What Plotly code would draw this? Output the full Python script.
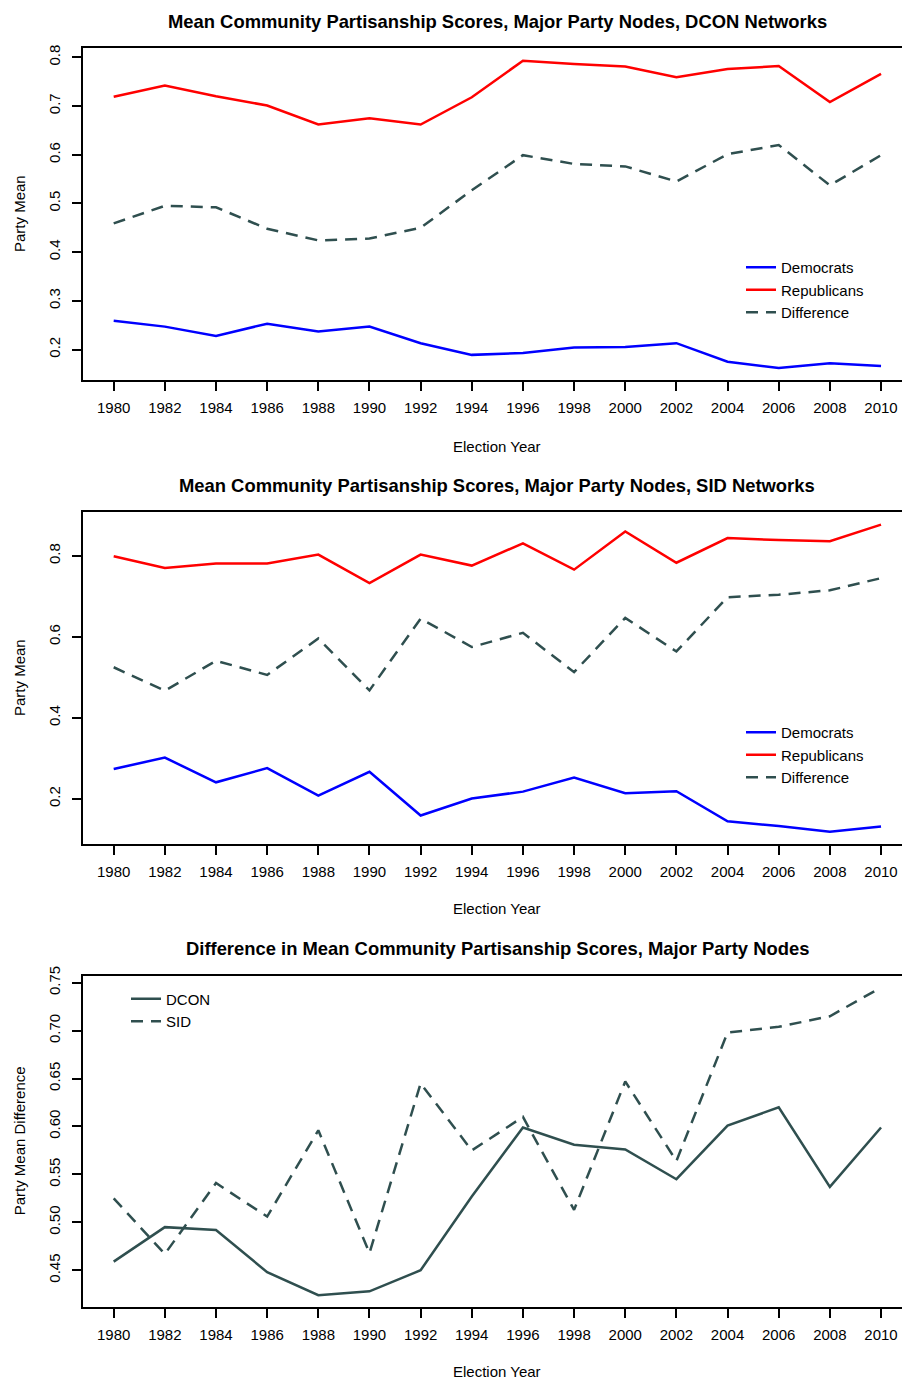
import plotly.graph_objects as go

# Election years shared by all three panels
years = [1980, 1982, 1984, 1986, 1988, 1990, 1992, 1994,
         1996, 1998, 2000, 2002, 2004, 2006, 2008, 2010]

# DCON networks: mean community partisanship of major-party nodes
dcon_dem = [0.259, 0.247, 0.228, 0.253, 0.237, 0.247, 0.213, 0.189,
            0.193, 0.204, 0.205, 0.213, 0.175, 0.162, 0.172, 0.166]
dcon_rep = [0.719, 0.742, 0.720, 0.701, 0.662, 0.675, 0.662, 0.718,
            0.793, 0.786, 0.781, 0.759, 0.776, 0.782, 0.708, 0.766]
dcon_diff = [0.459, 0.495, 0.492, 0.448, 0.424, 0.428, 0.450, 0.527,
             0.599, 0.581, 0.576, 0.545, 0.601, 0.620, 0.537, 0.599]

# SID networks
sid_dem = [0.274, 0.302, 0.241, 0.276, 0.208, 0.267, 0.159, 0.201,
           0.218, 0.253, 0.214, 0.219, 0.145, 0.133, 0.119, 0.132]
sid_rep = [0.799, 0.770, 0.781, 0.781, 0.803, 0.733, 0.803, 0.776,
           0.831, 0.766, 0.860, 0.783, 0.844, 0.839, 0.836, 0.877]
sid_diff = [0.525, 0.467, 0.541, 0.506, 0.596, 0.468, 0.645, 0.575,
            0.610, 0.513, 0.647, 0.564, 0.698, 0.704, 0.715, 0.745]

x_ticks = years
y_ticks_top = [0.2, 0.3, 0.4, 0.5, 0.6, 0.7, 0.8]
y_ticks_mid = [0.2, 0.4, 0.6, 0.8]
y_ticks_bot = [0.45, 0.50, 0.55, 0.60, 0.65, 0.70, 0.75]
y_labels_bot = ["0.45", "0.50", "0.55", "0.60", "0.65", "0.70", "0.75"]

W, H = 902, 1380
FONT = "Liberation Sans, Arial, Helvetica, sans-serif"
BLUE, RED, SLATE = "#0000FF", "#FF0000", "#2F4F4F"
DASH = "12px,8px"
LW = 2.5


def px_x(p):
    return p / W


def px_y(p):
    return 1 - p / H


fig = go.Figure()

panels = [
    dict(x="x", y="y", legend="legend",
         series=[("Democrats", dcon_dem, BLUE, "solid"),
                 ("Republicans", dcon_rep, RED, "solid"),
                 ("Difference", dcon_diff, SLATE, DASH)]),
    dict(x="x2", y="y2", legend="legend2",
         series=[("Democrats", sid_dem, BLUE, "solid"),
                 ("Republicans", sid_rep, RED, "solid"),
                 ("Difference", sid_diff, SLATE, DASH)]),
    dict(x="x3", y="y3", legend="legend3",
         series=[("DCON", dcon_diff, SLATE, "solid"),
                 ("SID", sid_diff, SLATE, DASH)]),
]

for p in panels:
    for name, vals, col, dash in p["series"]:
        fig.add_trace(go.Scatter(
            x=years, y=vals, mode="lines", name=name,
            line=dict(color=col, width=LW, dash=dash),
            xaxis=p["x"], yaxis=p["y"], legend=p["legend"],
        ))

# Plot-area geometry (pixels from top-left)
left_px = 83
boxes = [(48, 380), (511.7, 844.3), (976, 1306.7)]
y_ranges = [(0.1374, 0.8191), (0.088, 0.909), (0.412, 0.757)]
x_range = [1978.8, 2010.82]

axis_common = dict(showline=True, linecolor="black", linewidth=2,
                   ticks="outside", ticklen=9, tickwidth=2, tickcolor="black",
                   showgrid=False, zeroline=False, automargin=False,
                   tickfont=dict(family=FONT, size=15, color="black"))

layout = dict(
    template="none",
    width=W, height=H, margin=dict(l=0, r=0, t=0, b=0, pad=0),
    paper_bgcolor="white", plot_bgcolor="white",
    font=dict(family=FONT, size=15, color="black"),
)

ytick_sets = [
    dict(tickvals=y_ticks_top, ticktext=[f"{v:.1f}" for v in y_ticks_top]),
    dict(tickvals=y_ticks_mid, ticktext=[f"{v:.1f}" for v in y_ticks_mid]),
    dict(tickvals=y_ticks_bot, ticktext=y_labels_bot),
]

for i, ((top, bot), yr, yt) in enumerate(zip(boxes, y_ranges, ytick_sets)):
    sfx = "" if i == 0 else str(i + 1)
    layout["xaxis" + sfx] = dict(
        axis_common, domain=[px_x(left_px), 1.0], range=x_range,
        tickvals=x_ticks, ticktext=[str(v) for v in x_ticks],
        mirror=True, anchor="y" + sfx, ticklabelstandoff=4,
    )
    layout["yaxis" + sfx] = dict(
        axis_common, domain=[px_y(bot), px_y(top)], range=list(yr),
        tickvals=yt["tickvals"], ticktext=yt["ticktext"], tickangle=-90,
        mirror=False, anchor="x" + sfx, ticklabelstandoff=6,
    )

legend_style = dict(font=dict(family=FONT, size=15, color="black"),
                    bgcolor="rgba(0,0,0,0)", borderwidth=0,
                    xanchor="left", yanchor="top", tracegroupgap=0)
layout["legend"] = dict(legend_style, x=px_x(741), y=px_y(251))
layout["legend2"] = dict(legend_style, x=px_x(741), y=px_y(716))
layout["legend3"] = dict(legend_style, x=px_x(126), y=px_y(982.5))

fig.update_layout(**layout)

titles = [
    ("Mean Community Partisanship Scores, Major Party Nodes, DCON Networks", 21),
    ("Mean Community Partisanship Scores, Major Party Nodes, SID Networks", 485),
    ("Difference in Mean Community Partisanship Scores, Major Party Nodes", 948),
]
for text, py in titles:
    fig.add_annotation(text=f"<b>{text}</b>", xref="paper", yref="paper",
                       x=px_x(497), y=px_y(py), showarrow=False,
                       xanchor="center", yanchor="middle",
                       font=dict(family=FONT, size=18.4, color="black"))

for py in (446, 908, 1371):
    fig.add_annotation(text="Election Year", xref="paper", yref="paper",
                       x=px_x(497), y=px_y(py), showarrow=False,
                       xanchor="center", yanchor="middle",
                       font=dict(family=FONT, size=15, color="black"))

for text, (top, bot) in zip(["Party Mean", "Party Mean", "Party Mean Difference"], boxes):
    fig.add_annotation(text=text, xref="paper", yref="paper",
                       x=px_x(19), y=px_y((top + bot) / 2), showarrow=False,
                       textangle=-90, xanchor="center", yanchor="middle",
                       font=dict(family=FONT, size=15, color="black"))

fig.write_html("out.html")
